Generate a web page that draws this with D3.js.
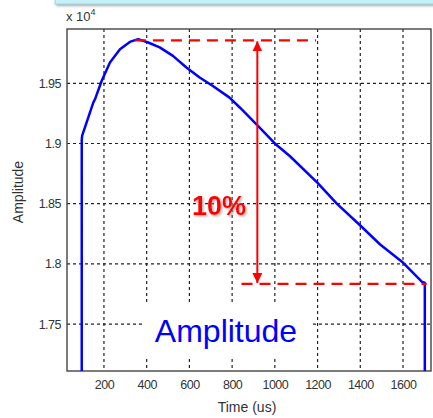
<!DOCTYPE html>
<html><head><meta charset="utf-8">
<script src="https://cdn.jsdelivr.net/npm/d3@7/dist/d3.min.js"></script>
<style>body{margin:0;background:#fff;}svg{display:block;}</style>
</head><body>
<script>
// Data (amplitude in units of 1e4, time in us)
const timeUs = [96, 96, 98, 150, 158, 189, 228, 275, 321, 360, 407, 461, 523, 586, 648, 710, 788, 837, 922, 1000, 1071, 1200, 1290, 1400, 1493, 1601, 1689, 1702, 1702];
const amplitude = [1.700, 1.903, 1.9065, 1.9339, 1.9367, 1.9519, 1.9673, 1.9783, 1.9844, 1.9867, 1.9839, 1.9798, 1.9728, 1.9631, 1.9548, 1.9478, 1.9381, 1.9297, 1.9144, 1.900, 1.8894, 1.8673, 1.850, 1.8319, 1.8161, 1.8009, 1.7850, 1.7844, 1.700];
const xTicks = [200, 400, 600, 800, 1000, 1200, 1400, 1600];
const yTicks = [1.75, 1.8, 1.85, 1.9, 1.95];
const yTickLabels = ["1.75", "1.8", "1.85", "1.9", "1.95"];
const refTop = {t0: 345, t1: 1193, v: 1.9857};
const refBottom = {t0: 844, t1: 1711, v: 1.7833};
const arrowT = 918;
const pctLabel = "10%";
const annotationLabel = "Amplitude";

const W = 433, H = 418;
const svg = d3.select("body").append("svg").attr("width", W).attr("height", H);
const defs = svg.append("defs");
const shadow = defs.append("filter").attr("id", "sh").attr("x", "-20%").attr("y", "-20%").attr("width", "150%").attr("height", "160%");
shadow.append("feDropShadow").attr("dx", 1.5).attr("dy", 1.5).attr("stdDeviation", 1.2).attr("flood-color", "#888").attr("flood-opacity", 0.7);
defs.append("clipPath").attr("id", "clip").append("rect").attr("x", 67).attr("y", 29).attr("width", 364).attr("height", 342);
defs.append("marker").attr("id", "ah").attr("viewBox", "0 0 10 10").attr("refX", 10).attr("refY", 5)
  .attr("markerWidth", 5).attr("markerHeight", 5).attr("markerUnits", "strokeWidth").attr("orient", "auto-start-reverse")
  .append("path").attr("d", "M0,0L10,5L0,10Z").attr("fill", "#ff0000");

// top cyan banner
svg.append("rect").attr("x", 55).attr("y", -8).attr("width", 390).attr("height", 12)
  .attr("fill", "#c6f1f6").attr("stroke", "#9fd6dd").attr("filter", "url(#sh)");

const x = d3.scaleLinear().domain([27, 1731]).range([67, 431]);
const y = d3.scaleLinear().domain([1.711, 1.9951]).range([371, 29]);

const font = "'Liberation Sans', Arial, sans-serif";

// grid
const g = svg.append("g");
g.selectAll(".vg").data(xTicks).join("line")
  .attr("x1", d => x(d)).attr("x2", d => x(d)).attr("y1", 29).attr("y2", 371)
  .attr("stroke", "#222").attr("stroke-width", 1.2).attr("stroke-dasharray", "3,3");
g.selectAll(".hg").data(yTicks).join("line")
  .attr("y1", d => y(d)).attr("y2", d => y(d)).attr("x1", 67).attr("x2", 431)
  .attr("stroke", "#222").attr("stroke-width", 1.2).attr("stroke-dasharray", "3,3");

// axes via d3 axis (labels only)
const xAxis = svg.append("g").attr("transform", "translate(0,371)")
  .call(d3.axisBottom(x).tickValues(xTicks).tickFormat(d3.format("d")).tickSize(0).tickPadding(9));
const yAxis = svg.append("g").attr("transform", "translate(67,0)")
  .call(d3.axisLeft(y).tickValues(yTicks).tickFormat((d, i) => yTickLabels[i]).tickSize(0).tickPadding(6));
[xAxis, yAxis].forEach(a => {
  a.select(".domain").remove();
  a.selectAll("text").attr("font-family", font).attr("font-size", 12.5).attr("fill", "#333").attr("letter-spacing", "-0.5px");
});

// white box behind annotation
svg.append("rect").attr("x", 143).attr("y", 302).attr("width", 168).attr("height", 54).attr("fill", "#fff");

// frame
svg.append("rect").attr("x", 67).attr("y", 29).attr("width", 364).attr("height", 342)
  .attr("fill", "none").attr("stroke", "#444").attr("stroke-width", 1.4);

// curve
const line = d3.line().x((d, i) => x(timeUs[i])).y(d => y(d));
svg.append("path").datum(amplitude).attr("d", line).attr("clip-path", "url(#clip)")
  .attr("fill", "none").attr("stroke", "#0000ff").attr("stroke-width", 2.5).attr("stroke-linejoin", "round");

// reference dashed lines
[refTop, refBottom].forEach(r => {
  svg.append("line").attr("x1", x(r.t0)).attr("x2", x(r.t1)).attr("y1", y(r.v)).attr("y2", y(r.v))
    .attr("stroke", "#ff0000").attr("stroke-width", 2.2).attr("stroke-dasharray", "11,7");
});
// double arrow
svg.append("line").attr("x1", x(arrowT)).attr("x2", x(arrowT)).attr("y1", y(refTop.v) + 1).attr("y2", y(refBottom.v) - 1)
  .attr("stroke", "#ff0000").attr("stroke-width", 2)
  .attr("marker-start", "url(#ah)").attr("marker-end", "url(#ah)");

// 10% label
svg.append("text").attr("x", 219).attr("y", 215).attr("text-anchor", "middle")
  .attr("font-family", font).attr("font-weight", "bold").attr("font-size", 27).attr("fill", "#ff0000")
  .attr("filter", "url(#sh)").text(pctLabel);

// annotation label
svg.append("text").attr("x", 226).attr("y", 342).attr("text-anchor", "middle")
  .attr("font-family", font).attr("font-size", 32).attr("fill", "#0000ff").text(annotationLabel);

// axis titles
svg.append("text").attr("x", 247).attr("y", 412).attr("text-anchor", "middle")
  .attr("font-family", font).attr("font-size", 14).attr("fill", "#333").text("Time (us)");
svg.append("text").attr("transform", "translate(23,192) rotate(-90)").attr("text-anchor", "middle")
  .attr("font-family", font).attr("font-size", 14).attr("fill", "#333").text("Amplitude");

// exponent
const ex = svg.append("text").attr("x", 66).attr("y", 21).attr("font-family", font).attr("font-size", 13).attr("fill", "#333");
ex.append("tspan").text("x 10");
ex.append("tspan").attr("dy", -6).attr("font-size", 9).text("4");
</script>
</body></html>
